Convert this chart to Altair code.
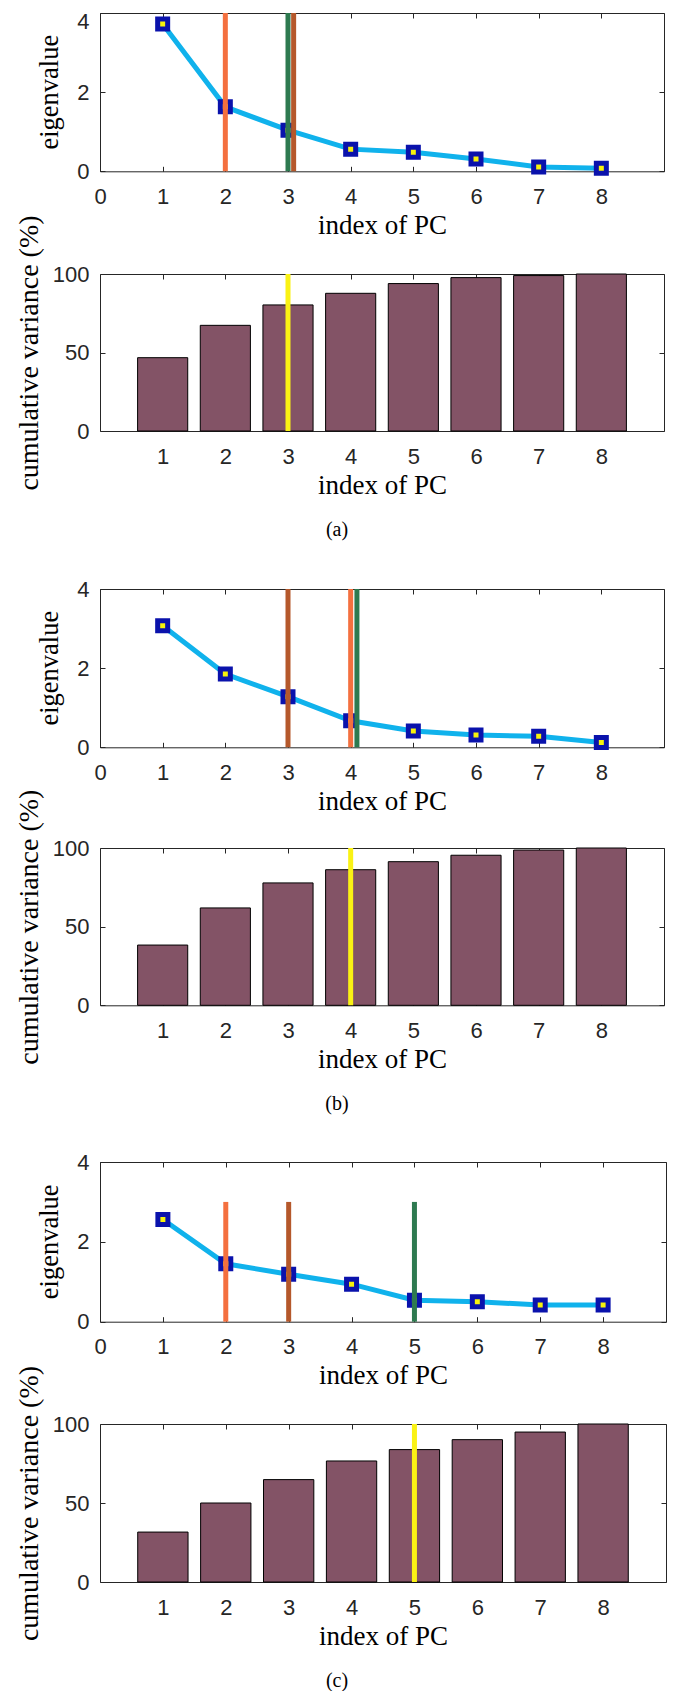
import altair as alt
import pandas as pd

# ---------------- data ----------------
pcs = [1, 2, 3, 4, 5, 6, 7, 8]

eig_a = [3.72, 1.63, 1.04, 0.56, 0.48, 0.31, 0.11, 0.08]
eig_b = [3.07, 1.85, 1.28, 0.67, 0.41, 0.31, 0.28, 0.12]
eig_c = [2.56, 1.45, 1.19, 0.94, 0.54, 0.50, 0.42, 0.42]

cum_a = [46.7, 67.3, 80.3, 87.7, 93.9, 97.7, 99.0, 100.0]
cum_b = [38.3, 61.9, 77.8, 86.2, 91.3, 95.4, 98.7, 100.0]
cum_c = [31.6, 50.0, 64.8, 76.6, 83.8, 90.1, 94.9, 100.0]

# vertical lines in the eigenvalue panels
lines_a_x = [2.0, 3.0, 3.09]
lines_a_top = [4, 4, 4]
lines_a_col = ["orange", "green", "brown"]
lines_b_x = [3.0, 4.0, 4.1]
lines_b_top = [4, 4, 4]
lines_b_col = ["brown", "orange", "green"]
lines_c_x = [2.0, 3.0, 5.0]
lines_c_top = [3, 3, 3]
lines_c_col = ["orange", "brown", "green"]

# yellow line in the cumulative-variance panels
cut_a = [3]
cut_b = [4]
cut_c = [5]

x_ticks_eig = [0, 1, 2, 3, 4, 5, 6, 7, 8]
x_ticks_bar = [1, 2, 3, 4, 5, 6, 7, 8]
y_ticks_eig = [0, 2, 4]
y_ticks_bar = [0, 50, 100]
captions = ["(a)", "(b)", "(c)"]
x_title = "index of PC"
y_title_eig = ["eigenvalue"]
y_title_bar = "cumulative variance (%)"

# ---------------- styles ----------------
LINE_COLORS = {"orange": "#F4703F", "green": "#2E7A50", "brown": "#B5582B"}
CYAN = "#10B2EC"
NAVY = "#0A12AC"
YEL = "#F7F20C"
BAR = "#835366"
CUT = "#FAF214"
FRAME = "#262626"
SERIF = "Liberation Serif"
SANS = "Liberation Sans"


def bottom_axis(values, title):
    return alt.Axis(orient="bottom", values=values, offset=-5, tickSize=5,
                    domain=False, grid=False, labelPadding=15, labelFlush=False,
                    labelOverlap=False, labelFont=SANS, labelFontSize=22,
                    title=title, titleFont=SERIF, titleFontSize=27,
                    titleFontWeight="normal", titleColor="black",
                    titlePadding=5)


def top_axis(values):
    return alt.Axis(orient="top", values=values, offset=-5, tickSize=5,
                    domain=False, grid=False, labels=False, title=None)


def left_axis(values, label_offset=0, title=None, title_x=None):
    kw = dict(orient="left", values=values, offset=-5, tickSize=5,
              domain=False, grid=False, labelPadding=11,
              labelOverlap=False, labelFlush=False,
              labelFont=SANS, labelFontSize=22, labelOffset=label_offset)
    if title is None:
        return alt.Axis(title=None, **kw)
    return alt.Axis(title=title, titleFont=SERIF, titleFontSize=28,
                    titleFontWeight="normal", titleColor="black",
                    titleX=title_x, titleBaseline="bottom", titleAngle=270,
                    **kw)


def right_axis(values):
    return alt.Axis(orient="right", values=values, offset=-5, tickSize=5,
                    domain=False, grid=False, labels=False, title=None)


def eig_panel(eig, lx, ltop, lcol, w, h, shift4=False):
    df = pd.DataFrame({"pc": pcs, "ev": eig})
    dl = pd.DataFrame({"x": lx, "top": ltop, "col": lcol})
    xs = alt.Scale(domain=[0, 9], nice=False, zero=False)
    ys = alt.Scale(domain=[0, 4], nice=False, zero=False)
    off = ({"condition": {"test": "datum.value === 4", "value": 8.3}, "value": 0}
           if shift4 else 0)
    line = alt.Chart(df).mark_line(color=CYAN, strokeWidth=5).encode(
        x=alt.X("pc:Q", scale=xs, axis=bottom_axis(x_ticks_eig, x_title)),
        y=alt.Y("ev:Q", scale=ys, axis=left_axis(y_ticks_eig, off)),
    )
    pts = alt.Chart(df).mark_point(
        shape="square", filled=True, fill=YEL, stroke=NAVY, strokeWidth=5,
        size=100, opacity=1,
    ).encode(
        x=alt.X("pc:Q", scale=xs, axis=None),
        y=alt.Y("ev:Q", scale=ys, axis=None),
    )
    rules = alt.Chart(dl).transform_calculate(y0="0").mark_rule(strokeWidth=5).encode(
        x=alt.X("x:Q", scale=xs, axis=top_axis(x_ticks_eig)),
        y=alt.Y("y0:Q", scale=ys, axis=right_axis(y_ticks_eig)),
        y2="top:Q",
        color=alt.Color("col:N", scale=alt.Scale(domain=list(LINE_COLORS.keys()),
                                                 range=list(LINE_COLORS.values())),
                        legend=None),
    )
    # y-axis title of the eigenvalue panel, drawn as rotated text
    ytitle = alt.Chart(pd.DataFrame({"t": y_title_eig})).mark_text(
        angle=270, baseline="bottom", align="center", font=SERIF,
        fontSize=26.5, color="black",
    ).encode(text="t:N", x=alt.value(-36), y=alt.value(h / 2))
    return alt.layer(line, pts, rules, ytitle).properties(width=w, height=h)


def bar_panel(cum, cut, caption, w, h, dx):
    df = pd.DataFrame({"pc": pcs, "cv": cum})
    dc = pd.DataFrame({"x": cut})
    xs = alt.Scale(domain=[0, 9], nice=False, zero=False)
    ys = alt.Scale(domain=[0, 100], nice=False)
    bars = alt.Chart(df).transform_calculate(
        lo="datum.pc - 0.4", hi="datum.pc + 0.4", base="0"
    ).mark_bar(fill=BAR, stroke="black", strokeWidth=1).encode(
        x=alt.X("lo:Q", scale=xs, axis=bottom_axis(x_ticks_bar, x_title)),
        x2="hi:Q",
        y=alt.Y("cv:Q", scale=ys,
                axis=left_axis(y_ticks_bar, 0, y_title_bar, -62)),
        y2="base:Q",
    )
    cutl = alt.Chart(dc).transform_calculate(y0="0", y1="100").mark_rule(
        color=CUT, strokeWidth=5
    ).encode(
        x=alt.X("x:Q", scale=xs, axis=top_axis(x_ticks_bar)),
        y=alt.Y("y0:Q", scale=ys, axis=right_axis(y_ticks_bar)),
        y2="y1:Q",
    )
    return alt.layer(bars, cutl).properties(
        width=w, height=h,
        title=alt.TitleParams(caption, orient="bottom", offset=22, dx=dx,
                              font=SERIF, fontSize=20, fontWeight="normal",
                              color="black"),
    )


def spacer(h, w):
    return alt.Chart(pd.DataFrame({"v": [0]})).mark_point(opacity=0).encode(
        x=alt.value(0), y=alt.value(0)
    ).properties(width=w, height=h, view=alt.ViewBackground(strokeOpacity=0))


W = 564
panels = [
    eig_panel(eig_a, lines_a_x, lines_a_top, lines_a_col, W, 158.3, shift4=True),
    spacer(101.7, W),
    bar_panel(cum_a, cut_a, captions[0], W, 157, -45),
    spacer(157.3, W),
    eig_panel(eig_b, lines_b_x, lines_b_top, lines_b_col, W, 158.3),
    spacer(99.5, W),
    bar_panel(cum_b, cut_b, captions[1], W, 157.3, -45),
    spacer(155.9, W),
    eig_panel(eig_c, lines_c_x, lines_c_top, lines_c_col, W + 2, 159.7),
    spacer(102, W),
    bar_panel(cum_c, cut_c, captions[2], W + 2, 158, -46),
]

chart = alt.vconcat(*panels, spacing=0, bounds="flush").properties(
    padding={"left": 6, "top": 0, "right": 5, "bottom": 2}
).configure_view(
    stroke=FRAME, strokeWidth=1
).configure_axis(
    labelFont=SANS, labelFontSize=22, labelColor=FRAME,
    titleFont=SERIF, titleFontWeight="normal", titleColor="black",
    tickColor=FRAME, tickWidth=1,
)

chart.save("out.html", embed_options={"renderer": "svg", "actions": False})
